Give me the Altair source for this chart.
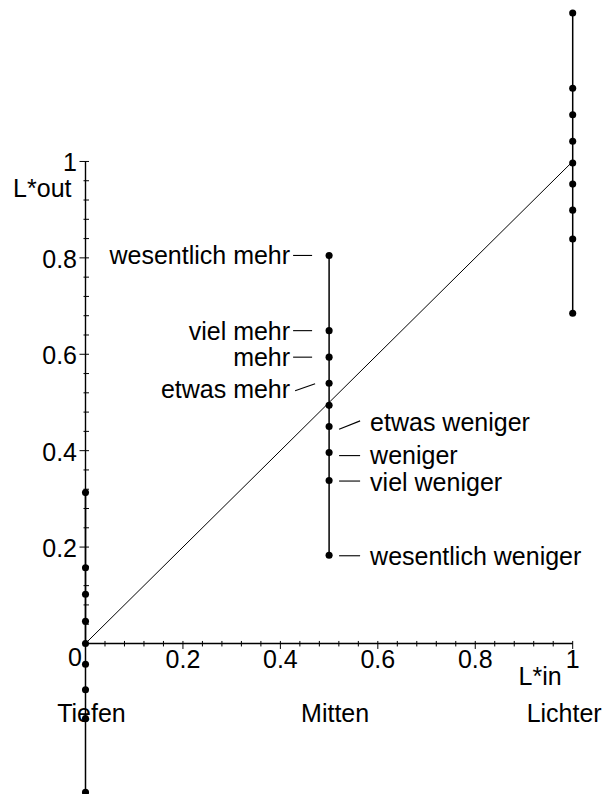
import altair as alt
import pandas as pd

# ---------------- data ----------------
col_x = [0.0, 0.5, 1.0]
col_names = ["Tiefen", "Mitten", "Lichter"]
tiefen_y = [0.313, 0.157, 0.102, 0.046, 0.0, -0.043, -0.096, -0.156, -0.309]
mitten_y = [0.805, 0.649, 0.594, 0.540, 0.494, 0.450, 0.396, 0.338, 0.183]
lichter_y = [1.308, 1.152, 1.097, 1.042, 0.997, 0.953, 0.899, 0.839, 0.685]
mitten_labels = ["wesentlich mehr", "viel mehr", "mehr", "etwas mehr", "",
                 "etwas weniger", "weniger", "viel weniger", "wesentlich weniger"]
diag_x = [0.0, 1.0]
diag_y = [0.0, 1.0]
major_ticks = [0.2, 0.4, 0.6, 0.8, 1.0]
major_labels = ["0.2", "0.4", "0.6", "0.8", "1"]
minor_ticks = [0.04, 0.08, 0.12, 0.16, 0.24, 0.28, 0.32, 0.36, 0.44, 0.48,
               0.52, 0.56, 0.64, 0.68, 0.72, 0.76, 0.84, 0.88, 0.92, 0.96]
axis_span = [0.0, 1.0]

FONT = "Liberation Sans"
FS = 25

# ---------------- tables ----------------
pts = pd.DataFrame({
    "x": [col_x[0]] * len(tiefen_y) + [col_x[1]] * len(mitten_y) + [col_x[2]] * len(lichter_y),
    "y": tiefen_y + mitten_y + lichter_y,
})
cols = pd.DataFrame({
    "x": col_x,
    "ymin": [min(tiefen_y), min(mitten_y), min(lichter_y)],
    "ymax": [max(tiefen_y), max(mitten_y), max(lichter_y)],
    "name": col_names,
})
mid = pd.DataFrame({"x": [col_x[1]] * len(mitten_y), "y": mitten_y, "label": mitten_labels})
diag = pd.DataFrame({"x": diag_x, "y": diag_y})
maj = pd.DataFrame({"t": major_ticks, "lab": major_labels, "z": 0.0})
mnr = pd.DataFrame({"t": minor_ticks, "z": 0.0})
axes = pd.DataFrame({"a0": [axis_span[0]], "a1": [axis_span[1]], "z": [0.0]})

xs = alt.Scale(domain=[-0.15907, 1.06219], nice=False, zero=False)
ys = alt.Scale(domain=[-0.31231, 1.3184], nice=False, zero=False)


def X(f):
    return alt.X(f, type="quantitative", scale=xs, axis=None)


def Y(f):
    return alt.Y(f, type="quantitative", scale=ys, axis=None)


layers = []

# axis lines
layers.append(alt.Chart(axes).mark_rule(color="black", strokeWidth=1.4).encode(
    x=X("a0:Q"), x2="a1:Q", y=Y("z:Q")))
layers.append(alt.Chart(axes).mark_rule(color="black", strokeWidth=1.4).encode(
    x=X("z:Q"), y=Y("a0:Q"), y2="a1:Q"))

# x-axis ticks
layers.append(alt.Chart(mnr).mark_rule(color="black", strokeWidth=1, yOffset=-2.5, y2Offset=3).encode(
    x=X("t:Q"), y=Y("z:Q"), y2="z:Q"))
layers.append(alt.Chart(maj).mark_rule(color="black", strokeWidth=1, yOffset=-2.5, y2Offset=5.5).encode(
    x=X("t:Q"), y=Y("z:Q"), y2="z:Q"))
# y-axis ticks
layers.append(alt.Chart(mnr).mark_rule(color="black", strokeWidth=1, xOffset=-2, x2Offset=3.5).encode(
    y=Y("t:Q"), x=X("z:Q"), x2="z:Q"))
layers.append(alt.Chart(maj).mark_rule(color="black", strokeWidth=1, xOffset=-6, x2Offset=3.5).encode(
    y=Y("t:Q"), x=X("z:Q"), x2="z:Q"))

# tick labels
layers.append(alt.Chart(maj).mark_text(font=FONT, fontSize=FS, align="center", baseline="alphabetic",
                                       dy=25, color="black").encode(
    x=X("t:Q"), y=Y("z:Q"), text="lab:N"))
layers.append(alt.Chart(maj).mark_text(font=FONT, fontSize=FS, align="right", baseline="alphabetic",
                                       dx=-8.5, dy=10, color="black").encode(
    y=Y("t:Q"), x=X("z:Q"), text="lab:N"))
layers.append(alt.Chart(axes).mark_text(font=FONT, fontSize=FS, align="right", baseline="alphabetic",
                                        dx=-3.5, dy=23, color="black", text="0").encode(
    x=X("z:Q"), y=Y("z:Q")))

# axis titles
layers.append(alt.Chart(axes).mark_text(font=FONT, fontSize=FS, align="right", baseline="alphabetic",
                                        dx=-14, dy=36, color="black", text="L*out").encode(
    x=X("z:Q"), y=Y("a1:Q")))
layers.append(alt.Chart(axes).mark_text(font=FONT, fontSize=FS, align="right", baseline="alphabetic",
                                        dx=-11, dy=42, color="black", text="L*in").encode(
    x=X("a1:Q"), y=Y("z:Q")))

# diagonal
layers.append(alt.Chart(diag).mark_line(color="black", strokeWidth=1).encode(
    x=X("x:Q"), y=Y("y:Q")))

# column lines
layers.append(alt.Chart(cols).mark_rule(color="black", strokeWidth=1.5).encode(
    x=X("x:Q"), y=Y("ymin:Q"), y2="ymax:Q"))

# column names
layers.append(alt.Chart(cols).transform_filter(
    alt.FieldOneOfPredicate(field="name", oneOf=col_names[:2])).mark_text(
    font=FONT, fontSize=FS, align="center", baseline="alphabetic", dx=6, dy=79, color="black").encode(
    x=X("x:Q"), y=alt.Y(datum=0, scale=ys, axis=None), text="name:N"))
layers.append(alt.Chart(cols).transform_filter(
    alt.FieldOneOfPredicate(field="name", oneOf=col_names[2:])).mark_text(
    font=FONT, fontSize=FS, align="right", baseline="alphabetic", dx=29, dy=79, color="black").encode(
    x=X("x:Q"), y=alt.Y(datum=0, scale=ys, axis=None), text="name:N"))

# points
layers.append(alt.Chart(pts).mark_circle(color="black", opacity=1, size=50).encode(
    x=X("x:Q"), y=Y("y:Q")))


def sel(names):
    return alt.Chart(mid).transform_filter(alt.FieldOneOfPredicate(field="label", oneOf=names))


left_plain = mitten_labels[0:3]
left_tilt = mitten_labels[3:4]
right_tilt = mitten_labels[5:6]
right_low = mitten_labels[6:7]
right_plain = mitten_labels[7:9]


def dash(names, xo, x2o, yo, y2o):
    return sel(names).mark_rule(color="black", strokeWidth=1.1, xOffset=xo, x2Offset=x2o,
                                yOffset=yo, y2Offset=y2o).encode(
        x=X("x:Q"), x2="x:Q", y=Y("y:Q"), y2="y:Q")


layers.append(dash(left_plain, -36, -17, 0, 0))
layers.append(dash(left_tilt, -34, -14, 7.5, 0.5))
layers.append(dash(right_tilt, 10, 31, 2.7, -5.7))
layers.append(dash(right_low, 10, 31, 3, 3))
layers.append(dash(right_plain, 10, 31, 0.5, 0.5))


def lab(names, align, dx, dy):
    return sel(names).mark_text(font=FONT, fontSize=FS, align=align, baseline="alphabetic",
                                dx=dx, dy=dy, color="black").encode(
        x=X("x:Q"), y=Y("y:Q"), text="label:N")


layers.append(lab(left_plain, "right", -39, 9))
layers.append(lab(left_tilt, "right", -39, 15))
layers.append(lab(right_tilt, "left", 41, 4))
layers.append(lab(right_low, "left", 41, 11))
layers.append(lab(right_plain, "left", 41, 10))

chart = alt.layer(*layers).properties(
    width=595, height=786,
    autosize=alt.AutoSizeParams(type="none"),
    padding=0,
    background="white",
).configure_view(stroke=None)

chart.save("out.html", embed_options={"renderer": "svg", "actions": False})
